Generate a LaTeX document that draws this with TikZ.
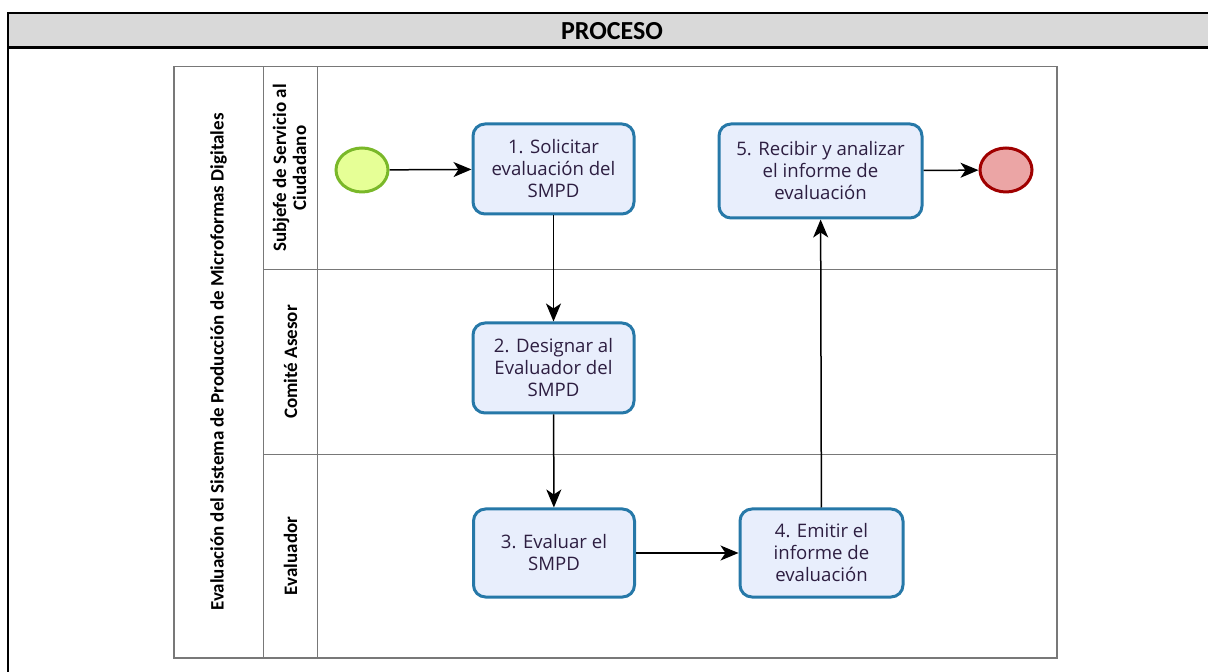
\documentclass[tikz,border=0pt]{standalone}
\usepackage{fontspec}
\setmainfont{Open Sans}
\newfontfamily\calibri{Carlito}
\usetikzlibrary{arrows.meta,shapes.geometric}
\definecolor{taskfill}{RGB}{232,238,252}
\definecolor{taskline}{RGB}{38,120,168}
\definecolor{tasktext}{RGB}{45,30,65}
\definecolor{startfill}{RGB}{230,255,150}
\definecolor{startline}{RGB}{122,184,41}
\definecolor{endfill}{RGB}{235,165,165}
\definecolor{endline}{RGB}{160,0,0}
\definecolor{headfill}{RGB}{217,217,217}
\definecolor{laneline}{RGB}{120,120,120}
\tikzset{
  task/.style = {
    draw=taskline, fill=taskfill, line width=1.5pt, rounded corners=6pt,
    align=center, text=tasktext, inner sep=0pt,
    font=\fontsize{9.3}{11}\selectfont
  },
  event/.style = {ellipse, line width=1.5pt, minimum width=26pt, minimum height=22pt},
  lanetext/.style = {rotate=90, align=center, font=\calibri\bfseries\fontsize{9.5}{10}\selectfont},
  flow/.style = {-{Stealth[length=9pt,width=7.5pt,inset=2.5pt]}, line width=0.75pt}
}

\begin{document}
\begin{tikzpicture}[x=0.5pt,y=-0.5pt]
  \useasboundingbox (0,0) rectangle (1208,672);
  % frame and header
  \fill[headfill] (7.5,13.5) rectangle (1208,47.5);
  \draw[line width=1pt] (7.5,672) -- (7.5,13.5) -- (1208,13.5);
  \draw[line width=1.5pt] (7.5,47.5) -- (1208,47.5);
  \node[font=\calibri\bfseries\fontsize{13}{15}\selectfont] (titulo) at (612,31) {PROCESO};
  % pool and lanes
  \draw[laneline,line width=0.75pt] (174,66.5) rectangle (1057,658);
  \draw[laneline,line width=0.75pt] (263.5,66.5) -- (263.5,658);
  \draw[laneline,line width=0.75pt] (317.5,66.5) -- (317.5,658);
  \draw[laneline,line width=0.75pt] (263.5,269.5) -- (1057,269.5);
  \draw[laneline,line width=0.75pt] (263.5,454.5) -- (1057,454.5);
  \node[lanetext] (pool) at (218.5,362) {Evaluación del Sistema de Producción de Microformas Digitales};
  \node[lanetext] (carril1) at (289.5,168) {Subjefe de Servicio al\\Ciudadano};
  \node[lanetext] (carril2) at (290.5,362) {Comité Asesor};
  \node[lanetext] (carril3) at (290.5,556) {Evaluador};
  % events
  \node[event, draw=startline, fill=startfill] (inicio) at (362,170) {};
  \node[event, draw=endline, fill=endfill] (fin) at (1006,170) {};
  % tasks
  \node[task, minimum width=80.5pt, minimum height=45pt] (t1) at (553.5,169) {1. Solicitar\\evaluación del\\SMPD};
  \node[task, minimum width=80.5pt, minimum height=45pt] (t2) at (553.5,368) {2. Designar al\\Evaluador del\\SMPD};
  \node[task, minimum width=80.5pt, minimum height=44pt] (t3) at (554,553) {3. Evaluar el\\SMPD};
  \node[task, minimum width=81.5pt, minimum height=44pt] (t4) at (821.5,553) {4. Emitir el\\informe de\\evaluación};
  \node[task, minimum width=101.5pt, minimum height=47pt] (t5) at (820.5,171) {5. Recibir y analizar\\el informe de\\evaluación};
  % flows
  \draw[flow] (inicio) -- (t1);
  \draw[flow] (t1) -- (t2);
  \draw[flow] (t2) -- (t3);
  \draw[flow] (t3) -- (t4);
  \draw[flow] (t4) -- (t5);
  \draw[flow] (t5) -- (fin);
\end{tikzpicture}
\end{document}
